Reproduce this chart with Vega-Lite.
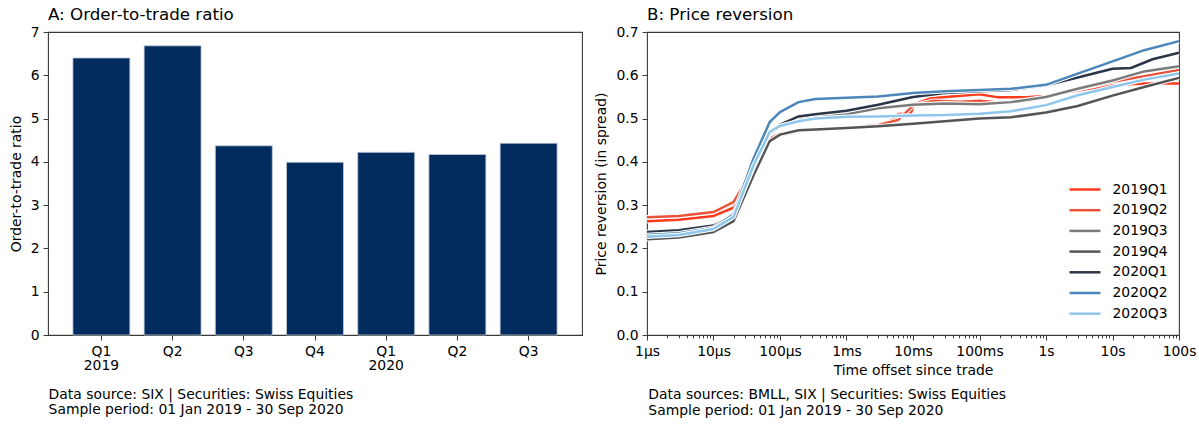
{
  "$schema": "https://vega.github.io/schema/vega-lite/v6.json",
  "background": "white",
  "padding": {"top": 6, "left": 8, "right": 4, "bottom": 4},
  "spacing": 11,
  "config": {
    "font": "DejaVu Sans",
    "view": {"stroke": "#3a3a3a", "strokeWidth": 1.1},
    "axis": {"domain": false, "grid": false, "labelFontSize": 13.9, "titleFontSize": 13.9, "labelColor": "#000", "titleColor": "#000", "titleFontWeight": "normal", "tickColor": "#3a3a3a", "tickSize": 5, "tickWidth": 1, "labelPadding": 4, "titlePadding": 7},
    "title": {"fontSize": 16.7, "fontWeight": "normal", "anchor": "start", "color": "#000", "offset": 1},
    "legend": {"title": null, "orient": "none", "legendX": 1026.5, "legendY": 147, "symbolType": "M-1.72,0H1.72", "symbolSize": 324, "symbolStrokeWidth": 2.5, "labelFontSize": 13.9, "labelOffset": 17, "rowPadding": 2.7, "padding": 0, "labelColor": "#000"}
  },
  "hconcat": [
    {
      "title": {"text": ["Data source: SIX | Securities: Swiss Equities", "Sample period: 01 Jan 2019 - 30 Sep 2020"], "orient": "bottom", "anchor": "start", "fontSize": 13.9, "lineHeight": 15.5, "offset": 15, "dx": 40},
      "vconcat": [
        {
          "width": 534, "height": 303,
          "title": {"text": "A: Order-to-trade ratio", "frame": "group"},
          "data": {"values": [
            {"q": "Q1 2019", "r": 6.40},
            {"q": "Q2 2019", "r": 6.68},
            {"q": "Q3 2019", "r": 4.37},
            {"q": "Q4 2019", "r": 3.99},
            {"q": "Q1 2020", "r": 4.22},
            {"q": "Q2 2020", "r": 4.17},
            {"q": "Q3 2020", "r": 4.43}
          ]},
          "mark": {"type": "bar", "fill": "#022c5e", "stroke": "#c0cad8", "strokeWidth": 0.8},
          "encoding": {
            "x": {"field": "q", "type": "nominal", "sort": null, "scale": {"paddingInner": 0.2, "paddingOuter": 0.35},
              "axis": {"title": null, "labelAngle": 0, "labelOverlap": false, "labelLineHeight": 14.5, "labelPadding": 4,
                "labelExpr": "split(datum.value, ' ')[0] == 'Q1' ? split(datum.value, ' ') : split(datum.value, ' ')[0]"}},
            "y": {"field": "r", "type": "quantitative", "scale": {"domain": [0, 7], "nice": false},
              "axis": {"title": "Order-to-trade ratio", "values": [0, 1, 2, 3, 4, 5, 6, 7]}}
          }
        }
      ]
    },
    {
      "title": {"text": ["Data sources: BMLL, SIX | Securities: Swiss Equities", "Sample period: 01 Jan 2019 - 30 Sep 2020"], "orient": "bottom", "anchor": "start", "fontSize": 13.9, "lineHeight": 15.5, "offset": 10, "dx": 54},
      "vconcat": [
        {
          "width": 532, "height": 303,
          "title": {"text": "B: Price reversion", "frame": "group"},
          "data": {"values": [
            {"s":"2019Q1","t":1e-6,"v":0.263},{"s":"2019Q1","t":3e-6,"v":0.266},{"s":"2019Q1","t":1e-5,"v":0.275},{"s":"2019Q1","t":2e-5,"v":0.294},{"s":"2019Q1","t":4e-5,"v":0.377},{"s":"2019Q1","t":7e-5,"v":0.450},{"s":"2019Q1","t":1e-4,"v":0.462},{"s":"2019Q1","t":1.9e-4,"v":0.469},{"s":"2019Q1","t":3.4e-4,"v":0.473},{"s":"2019Q1","t":0.001,"v":0.477},{"s":"2019Q1","t":0.003,"v":0.482},{"s":"2019Q1","t":0.0051,"v":0.498},{"s":"2019Q1","t":0.0059,"v":0.510},{"s":"2019Q1","t":0.0093,"v":0.513},{"s":"2019Q1","t":0.0105,"v":0.533},{"s":"2019Q1","t":0.0186,"v":0.547},{"s":"2019Q1","t":0.1,"v":0.556},{"s":"2019Q1","t":0.19,"v":0.549},{"s":"2019Q1","t":0.5,"v":0.549},{"s":"2019Q1","t":1,"v":0.552},{"s":"2019Q1","t":3,"v":0.565},{"s":"2019Q1","t":10,"v":0.577},{"s":"2019Q1","t":30,"v":0.581},{"s":"2019Q1","t":100,"v":0.581},
            {"s":"2019Q2","t":1e-6,"v":0.272},{"s":"2019Q2","t":3e-6,"v":0.275},{"s":"2019Q2","t":1e-5,"v":0.284},{"s":"2019Q2","t":2e-5,"v":0.307},{"s":"2019Q2","t":4e-5,"v":0.385},{"s":"2019Q2","t":7e-5,"v":0.454},{"s":"2019Q2","t":1e-4,"v":0.465},{"s":"2019Q2","t":1.9e-4,"v":0.471},{"s":"2019Q2","t":3.4e-4,"v":0.475},{"s":"2019Q2","t":0.001,"v":0.478},{"s":"2019Q2","t":0.003,"v":0.485},{"s":"2019Q2","t":0.006,"v":0.497},{"s":"2019Q2","t":0.01,"v":0.530},{"s":"2019Q2","t":0.02,"v":0.541},{"s":"2019Q2","t":0.05,"v":0.539},{"s":"2019Q2","t":0.1,"v":0.541},{"s":"2019Q2","t":0.2,"v":0.537},{"s":"2019Q2","t":0.5,"v":0.541},{"s":"2019Q2","t":1,"v":0.549},{"s":"2019Q2","t":3,"v":0.568},{"s":"2019Q2","t":10,"v":0.585},{"s":"2019Q2","t":30,"v":0.598},{"s":"2019Q2","t":100,"v":0.612},
            {"s":"2019Q3","t":1e-6,"v":0.236},{"s":"2019Q3","t":3e-6,"v":0.240},{"s":"2019Q3","t":1e-5,"v":0.251},{"s":"2019Q3","t":2e-5,"v":0.276},{"s":"2019Q3","t":4e-5,"v":0.385},{"s":"2019Q3","t":7e-5,"v":0.465},{"s":"2019Q3","t":1e-4,"v":0.481},{"s":"2019Q3","t":1.9e-4,"v":0.500},{"s":"2019Q3","t":3.4e-4,"v":0.505},{"s":"2019Q3","t":0.001,"v":0.510},{"s":"2019Q3","t":0.003,"v":0.524},{"s":"2019Q3","t":0.01,"v":0.532},{"s":"2019Q3","t":0.03,"v":0.535},{"s":"2019Q3","t":0.1,"v":0.533},{"s":"2019Q3","t":0.3,"v":0.538},{"s":"2019Q3","t":1,"v":0.550},{"s":"2019Q3","t":3,"v":0.569},{"s":"2019Q3","t":10,"v":0.588},{"s":"2019Q3","t":30,"v":0.609},{"s":"2019Q3","t":100,"v":0.621},
            {"s":"2019Q4","t":1e-6,"v":0.221},{"s":"2019Q4","t":3e-6,"v":0.225},{"s":"2019Q4","t":1e-5,"v":0.238},{"s":"2019Q4","t":2e-5,"v":0.263},{"s":"2019Q4","t":4e-5,"v":0.369},{"s":"2019Q4","t":7e-5,"v":0.448},{"s":"2019Q4","t":1e-4,"v":0.463},{"s":"2019Q4","t":1.9e-4,"v":0.473},{"s":"2019Q4","t":3.4e-4,"v":0.475},{"s":"2019Q4","t":0.001,"v":0.478},{"s":"2019Q4","t":0.003,"v":0.482},{"s":"2019Q4","t":0.01,"v":0.488},{"s":"2019Q4","t":0.03,"v":0.494},{"s":"2019Q4","t":0.1,"v":0.500},{"s":"2019Q4","t":0.3,"v":0.503},{"s":"2019Q4","t":1,"v":0.514},{"s":"2019Q4","t":3,"v":0.529},{"s":"2019Q4","t":10,"v":0.553},{"s":"2019Q4","t":30,"v":0.573},{"s":"2019Q4","t":100,"v":0.594},
            {"s":"2020Q1","t":1e-6,"v":0.238},{"s":"2020Q1","t":3e-6,"v":0.242},{"s":"2020Q1","t":1e-5,"v":0.253},{"s":"2020Q1","t":2e-5,"v":0.277},{"s":"2020Q1","t":4e-5,"v":0.388},{"s":"2020Q1","t":7e-5,"v":0.469},{"s":"2020Q1","t":1e-4,"v":0.486},{"s":"2020Q1","t":1.9e-4,"v":0.505},{"s":"2020Q1","t":3.4e-4,"v":0.510},{"s":"2020Q1","t":0.001,"v":0.518},{"s":"2020Q1","t":0.003,"v":0.532},{"s":"2020Q1","t":0.01,"v":0.550},{"s":"2020Q1","t":0.03,"v":0.559},{"s":"2020Q1","t":0.1,"v":0.563},{"s":"2020Q1","t":0.3,"v":0.566},{"s":"2020Q1","t":1,"v":0.577},{"s":"2020Q1","t":3,"v":0.595},{"s":"2020Q1","t":10,"v":0.615},{"s":"2020Q1","t":19,"v":0.617},{"s":"2020Q1","t":40,"v":0.637},{"s":"2020Q1","t":100,"v":0.652},
            {"s":"2020Q2","t":1e-6,"v":0.231},{"s":"2020Q2","t":3e-6,"v":0.235},{"s":"2020Q2","t":1e-5,"v":0.248},{"s":"2020Q2","t":2e-5,"v":0.279},{"s":"2020Q2","t":4e-5,"v":0.408},{"s":"2020Q2","t":7e-5,"v":0.492},{"s":"2020Q2","t":1e-4,"v":0.515},{"s":"2020Q2","t":1.9e-4,"v":0.538},{"s":"2020Q2","t":3.4e-4,"v":0.545},{"s":"2020Q2","t":0.001,"v":0.548},{"s":"2020Q2","t":0.003,"v":0.551},{"s":"2020Q2","t":0.01,"v":0.559},{"s":"2020Q2","t":0.03,"v":0.563},{"s":"2020Q2","t":0.1,"v":0.566},{"s":"2020Q2","t":0.3,"v":0.569},{"s":"2020Q2","t":1,"v":0.578},{"s":"2020Q2","t":3,"v":0.604},{"s":"2020Q2","t":10,"v":0.632},{"s":"2020Q2","t":30,"v":0.658},{"s":"2020Q2","t":100,"v":0.679},
            {"s":"2020Q3","t":1e-6,"v":0.227},{"s":"2020Q3","t":3e-6,"v":0.231},{"s":"2020Q3","t":1e-5,"v":0.245},{"s":"2020Q3","t":2e-5,"v":0.273},{"s":"2020Q3","t":4e-5,"v":0.392},{"s":"2020Q3","t":7e-5,"v":0.469},{"s":"2020Q3","t":1e-4,"v":0.483},{"s":"2020Q3","t":1.9e-4,"v":0.494},{"s":"2020Q3","t":3.4e-4,"v":0.500},{"s":"2020Q3","t":0.001,"v":0.504},{"s":"2020Q3","t":0.003,"v":0.505},{"s":"2020Q3","t":0.01,"v":0.507},{"s":"2020Q3","t":0.03,"v":0.508},{"s":"2020Q3","t":0.1,"v":0.511},{"s":"2020Q3","t":0.3,"v":0.517},{"s":"2020Q3","t":1,"v":0.531},{"s":"2020Q3","t":3,"v":0.554},{"s":"2020Q3","t":10,"v":0.573},{"s":"2020Q3","t":30,"v":0.590},{"s":"2020Q3","t":100,"v":0.604}
          ]},
          "encoding": {
            "x": {"field": "t", "type": "quantitative", "scale": {"type": "log", "domain": [1e-6, 100], "nice": false},
              "axis": {"title": "Time offset since trade", "labelFlush": false, "labelOverlap": false, "labelPadding": 4, "titlePadding": 6,
                "values": [1e-6,2e-6,3e-6,4e-6,5e-6,6e-6,7e-6,8e-6,9e-6,1e-5,2e-5,3e-5,4e-5,5e-5,6e-5,7e-5,8e-5,9e-5,1e-4,2e-4,3e-4,4e-4,5e-4,6e-4,7e-4,8e-4,9e-4,0.001,0.002,0.003,0.004,0.005,0.006,0.007,0.008,0.009,0.01,0.02,0.03,0.04,0.05,0.06,0.07,0.08,0.09,0.1,0.2,0.3,0.4,0.5,0.6,0.7,0.8,0.9,1,2,3,4,5,6,7,8,9,10,20,30,40,50,60,70,80,90,100],
                "tickSize": {"condition": {"test": "abs(log(datum.value)/LN10 - round(log(datum.value)/LN10)) < 0.000001", "value": 5}, "value": 2.8},
                "labelExpr": "datum.value==1e-6?'1µs':datum.value==1e-5?'10µs':datum.value==1e-4?'100µs':datum.value==0.001?'1ms':datum.value==0.01?'10ms':datum.value==0.1?'100ms':datum.value==1?'1s':datum.value==10?'10s':datum.value==100?'100s':''"}},
            "y": {"field": "v", "type": "quantitative", "scale": {"domain": [0, 0.7], "nice": false},
              "axis": {"title": "Price reversion (in spread)", "values": [0, 0.1, 0.2, 0.3, 0.4, 0.5, 0.6, 0.7], "format": ".1f"}}
          },
          "layer": [
            {"transform": [{"filter": "datum.s=='2019Q1'"}], "layer": [
              {"mark": {"type": "line", "color": "white", "strokeWidth": 4.6}, "encoding": {}},
              {"mark": {"type": "line", "strokeWidth": 2.5}, "encoding": {"color": {"field": "s", "type": "nominal", "scale": {"domain": ["2019Q1","2019Q2","2019Q3","2019Q4","2020Q1","2020Q2","2020Q3"], "range": ["#fe3a1f","#e9533a","#7b7b7b","#545454","#2b3547","#4d86b9","#8ec6ec"]}}}}
            ]},
            {"transform": [{"filter": "datum.s=='2019Q2'"}], "layer": [
              {"mark": {"type": "line", "color": "white", "strokeWidth": 4.6}, "encoding": {}},
              {"mark": {"type": "line", "strokeWidth": 2.5}, "encoding": {"color": {"field": "s", "type": "nominal", "scale": {"domain": ["2019Q1","2019Q2","2019Q3","2019Q4","2020Q1","2020Q2","2020Q3"], "range": ["#fe3a1f","#e9533a","#7b7b7b","#545454","#2b3547","#4d86b9","#8ec6ec"]}}}}
            ]},
            {"transform": [{"filter": "datum.s=='2019Q3'"}], "layer": [
              {"mark": {"type": "line", "color": "white", "strokeWidth": 4.6}, "encoding": {}},
              {"mark": {"type": "line", "strokeWidth": 2.5}, "encoding": {"color": {"field": "s", "type": "nominal", "scale": {"domain": ["2019Q1","2019Q2","2019Q3","2019Q4","2020Q1","2020Q2","2020Q3"], "range": ["#fe3a1f","#e9533a","#7b7b7b","#545454","#2b3547","#4d86b9","#8ec6ec"]}}}}
            ]},
            {"transform": [{"filter": "datum.s=='2019Q4'"}], "layer": [
              {"mark": {"type": "line", "color": "white", "strokeWidth": 4.6}, "encoding": {}},
              {"mark": {"type": "line", "strokeWidth": 2.5}, "encoding": {"color": {"field": "s", "type": "nominal", "scale": {"domain": ["2019Q1","2019Q2","2019Q3","2019Q4","2020Q1","2020Q2","2020Q3"], "range": ["#fe3a1f","#e9533a","#7b7b7b","#545454","#2b3547","#4d86b9","#8ec6ec"]}}}}
            ]},
            {"transform": [{"filter": "datum.s=='2020Q1'"}], "layer": [
              {"mark": {"type": "line", "color": "white", "strokeWidth": 4.6}, "encoding": {}},
              {"mark": {"type": "line", "strokeWidth": 2.5}, "encoding": {"color": {"field": "s", "type": "nominal", "scale": {"domain": ["2019Q1","2019Q2","2019Q3","2019Q4","2020Q1","2020Q2","2020Q3"], "range": ["#fe3a1f","#e9533a","#7b7b7b","#545454","#2b3547","#4d86b9","#8ec6ec"]}}}}
            ]},
            {"transform": [{"filter": "datum.s=='2020Q2'"}], "layer": [
              {"mark": {"type": "line", "color": "white", "strokeWidth": 4.6}, "encoding": {}},
              {"mark": {"type": "line", "strokeWidth": 2.5}, "encoding": {"color": {"field": "s", "type": "nominal", "scale": {"domain": ["2019Q1","2019Q2","2019Q3","2019Q4","2020Q1","2020Q2","2020Q3"], "range": ["#fe3a1f","#e9533a","#7b7b7b","#545454","#2b3547","#4d86b9","#8ec6ec"]}}}}
            ]},
            {"transform": [{"filter": "datum.s=='2020Q3'"}], "layer": [
              {"mark": {"type": "line", "color": "white", "strokeWidth": 4.6}, "encoding": {}},
              {"mark": {"type": "line", "strokeWidth": 2.5}, "encoding": {"color": {"field": "s", "type": "nominal", "scale": {"domain": ["2019Q1","2019Q2","2019Q3","2019Q4","2020Q1","2020Q2","2020Q3"], "range": ["#fe3a1f","#e9533a","#7b7b7b","#545454","#2b3547","#4d86b9","#8ec6ec"]}}}}
            ]}
          ]
        }
      ]
    }
  ]
}
